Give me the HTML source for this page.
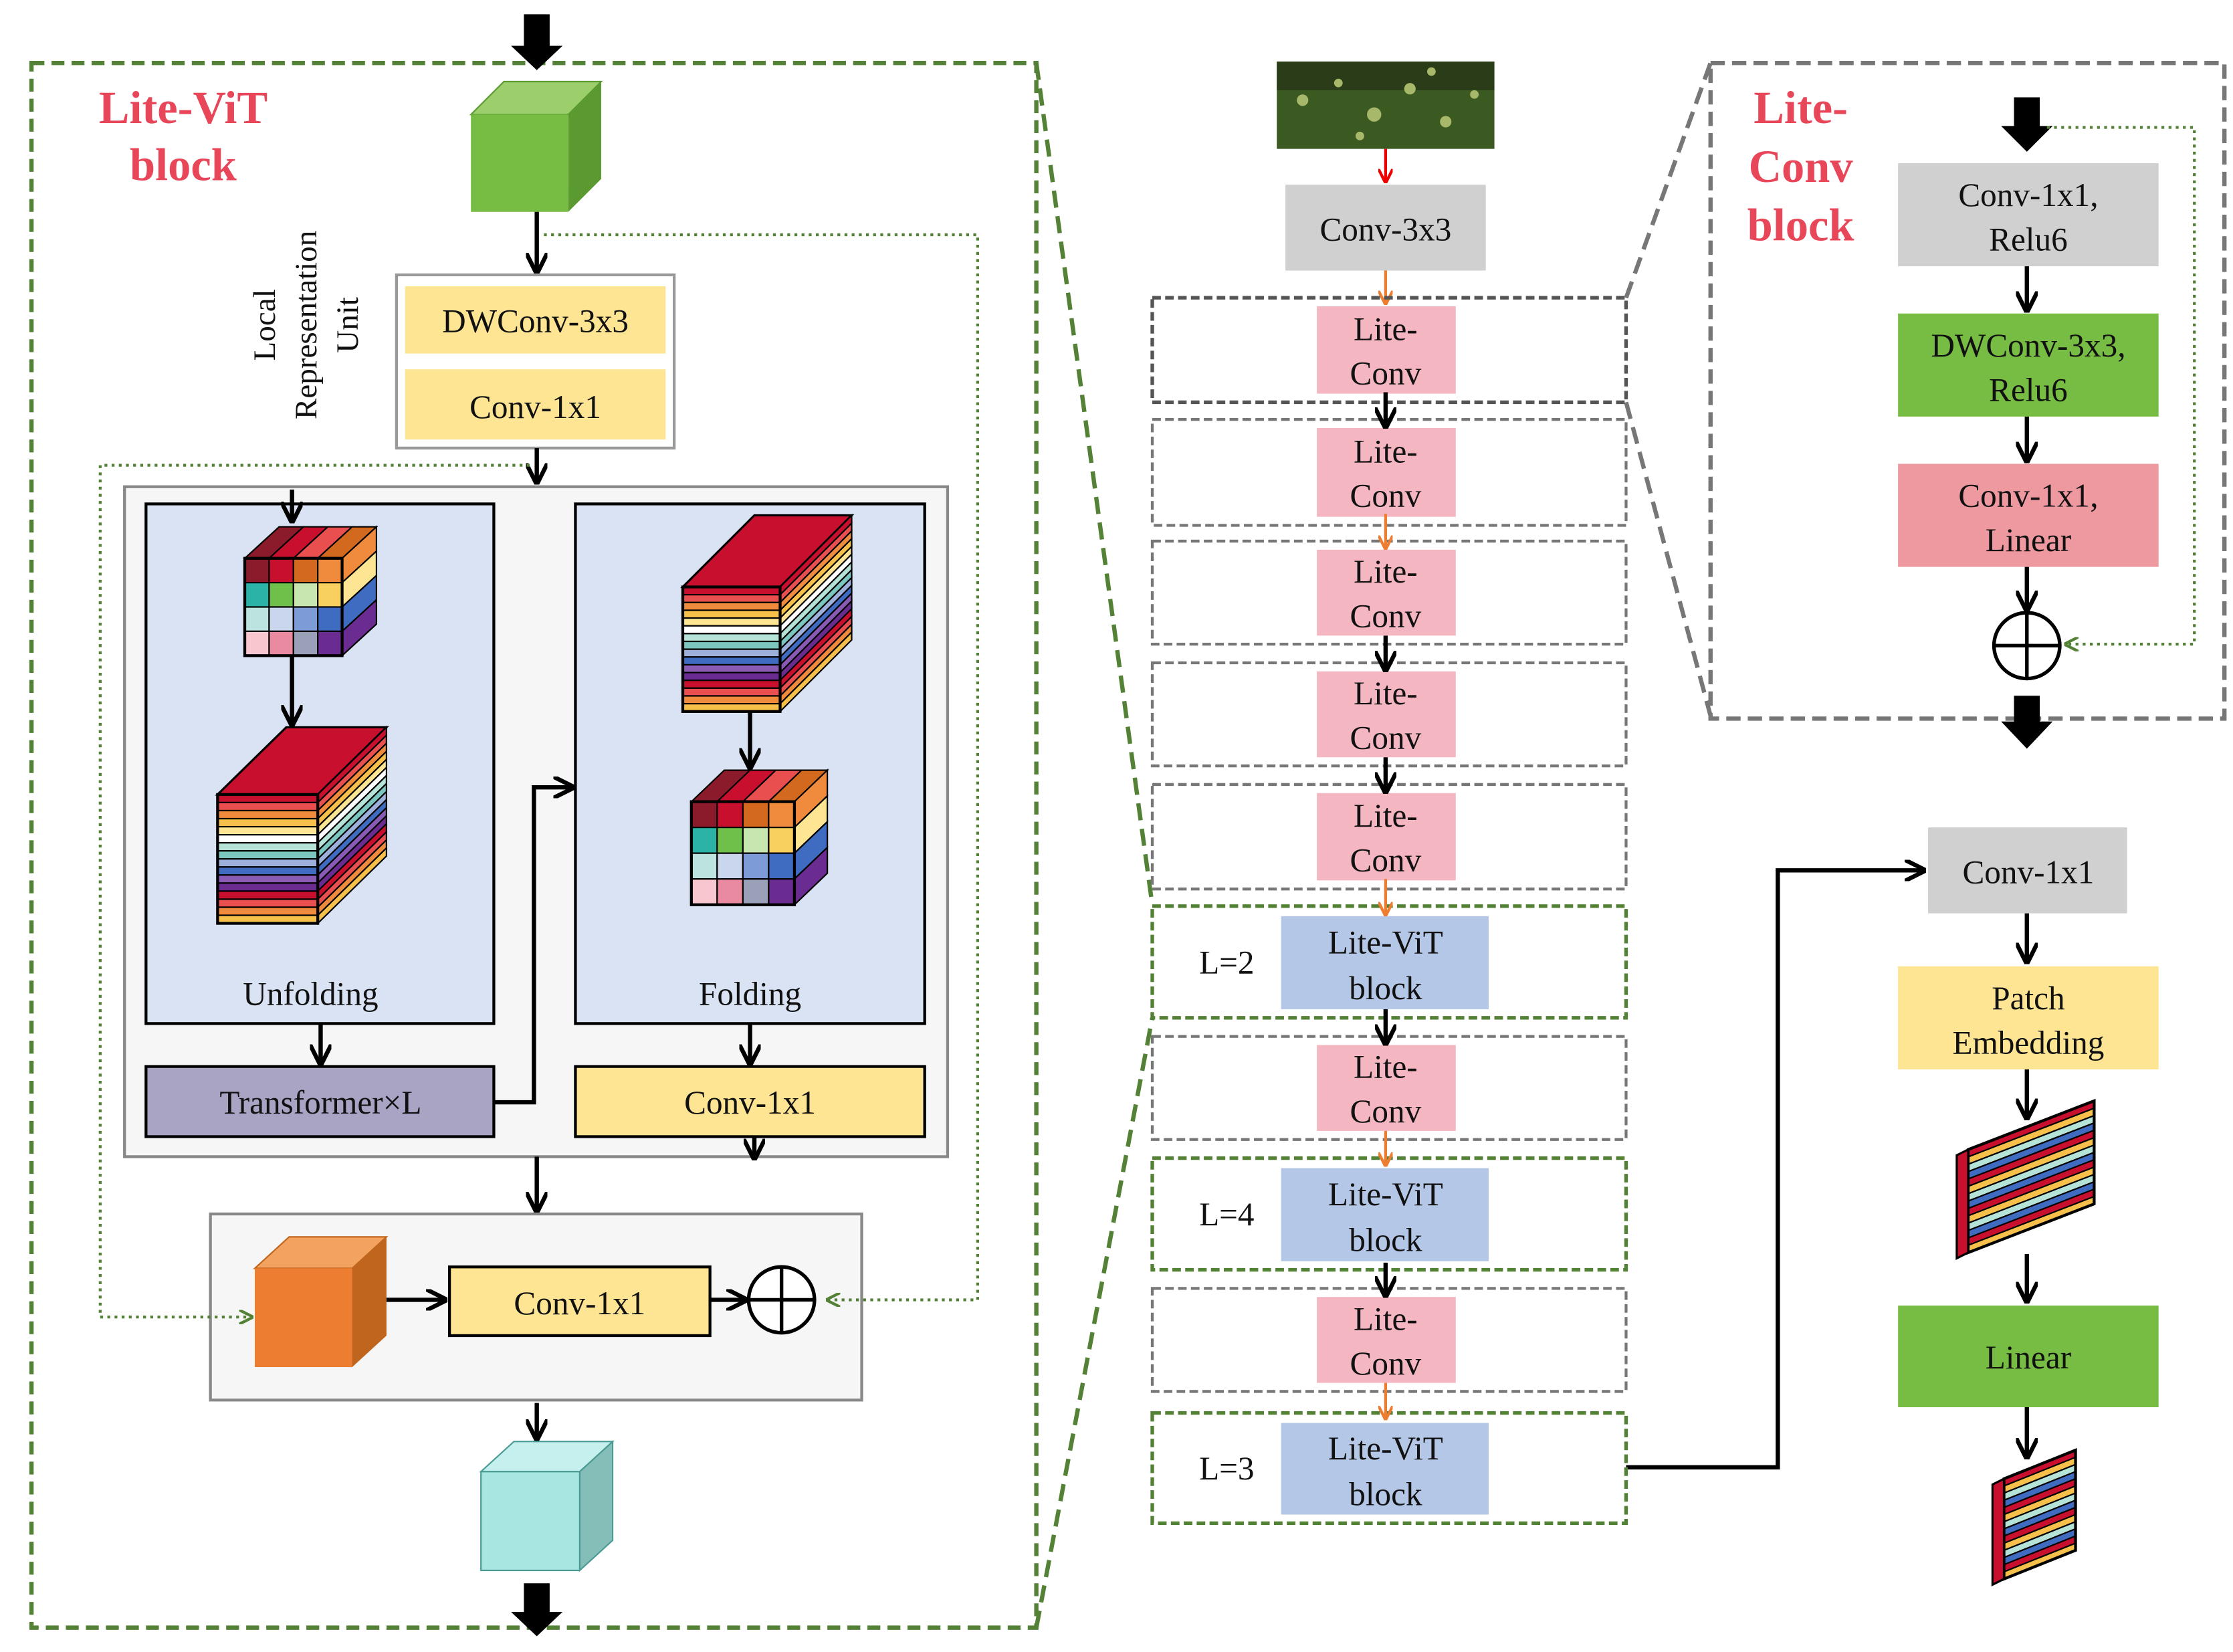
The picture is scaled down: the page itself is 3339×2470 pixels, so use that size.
<!DOCTYPE html>
<html><head><meta charset="utf-8"><style>
html,body{margin:0;padding:0;background:#fff}
svg{display:block}
text{font-family:"Liberation Serif",serif;fill:#111}
</style></head><body>
<svg id="s" width="3339" height="2470" viewBox="0 0 1560 1154" xmlns="http://www.w3.org/2000/svg">
<defs>
<marker id="ab" viewBox="0 0 10 10" refX="9" refY="5" markerWidth="5" markerHeight="5" orient="auto"><path d="M0,0 L10,5 L0,10" fill="none" stroke="#000" stroke-width="2"/></marker>
<marker id="ao" viewBox="0 0 10 10" refX="9" refY="5" markerWidth="5" markerHeight="5" orient="auto"><path d="M0,0 L10,5 L0,10" fill="none" stroke="#ed7d31" stroke-width="2"/></marker>
<marker id="ar" viewBox="0 0 10 10" refX="9" refY="5" markerWidth="5" markerHeight="5" orient="auto"><path d="M0,0 L10,5 L0,10" fill="none" stroke="#e00" stroke-width="2"/></marker>
<marker id="ag" viewBox="0 0 10 10" refX="9" refY="5" markerWidth="5" markerHeight="5" orient="auto"><path d="M0,0 L10,5 L0,10" fill="none" stroke="#538135" stroke-width="2"/></marker>
</defs>
<!-- left big box -->
<rect x="22" y="44" width="702" height="1093" fill="none" stroke="#538135" stroke-width="3" stroke-dasharray="9,5"/>
<path d="M366,10h18v22h9l-18,17l-18,-17h9z" fill="#000"/>
<text x="128" y="86" text-anchor="middle" font-size="32" font-weight="bold" style="fill:#e8475a">Lite-ViT</text>
<text x="128" y="126" text-anchor="middle" font-size="32" font-weight="bold" style="fill:#e8475a">block</text>
<polygon points="329,80 352,57 420,57 397,80" fill="#9ccf6c" stroke="#5a9a30"/>
<polygon points="397,80 420,57 420,125 397,148" fill="#5a9a30"/>
<rect x="329" y="80" width="68" height="68" fill="#77bc43"/>
<line x1="375" y1="148" x2="375" y2="190" stroke="#000" stroke-width="3" marker-end="url(#ab)"/>
<g transform="translate(192,305) rotate(-90)"><text x="78" y="0" text-anchor="middle" font-size="22">Local</text><text x="78" y="29" text-anchor="middle" font-size="22">Representation</text><text x="78" y="58" text-anchor="middle" font-size="22">Unit</text></g>
<rect x="277" y="192" width="194" height="121" fill="#fff" stroke="#999" stroke-width="2"/>
<rect x="283" y="200" width="182" height="47" fill="#fde594"/>
<text x="374" y="232" text-anchor="middle" font-size="23">DWConv-3x3</text>
<rect x="283" y="258" width="182" height="49" fill="#fde594"/>
<text x="374" y="292" text-anchor="middle" font-size="23">Conv-1x1</text>
<line x1="375" y1="313" x2="375" y2="337" stroke="#000" stroke-width="3" marker-end="url(#ab)"/>
<rect x="87" y="340" width="575" height="468" fill="#f6f6f6" stroke="#888" stroke-width="2"/>
<rect x="102" y="352" width="243" height="363" fill="#dae3f3" stroke="#000" stroke-width="2"/>
<rect x="402" y="352" width="244" height="363" fill="#dae3f3" stroke="#000" stroke-width="2"/>
<text x="217" y="702" text-anchor="middle" font-size="23">Unfolding</text>
<text x="524" y="702" text-anchor="middle" font-size="23">Folding</text>
<line x1="204" y1="342" x2="204" y2="364" stroke="#000" stroke-width="3" marker-end="url(#ab)"/>
<line x1="204" y1="458" x2="204" y2="506" stroke="#000" stroke-width="3" marker-end="url(#ab)"/>
<line x1="524" y1="497" x2="524" y2="536" stroke="#000" stroke-width="3" marker-end="url(#ab)"/>
<rect x="102" y="745" width="243" height="49" fill="#a9a3c4" stroke="#000" stroke-width="2"/>
<text x="224" y="778" text-anchor="middle" font-size="23">Transformer×L</text>
<rect x="402" y="745" width="244" height="49" fill="#fde594" stroke="#000" stroke-width="2"/>
<text x="524" y="778" text-anchor="middle" font-size="23">Conv-1x1</text>
<line x1="224" y1="715" x2="224" y2="743" stroke="#000" stroke-width="3" marker-end="url(#ab)"/>
<line x1="524" y1="715" x2="524" y2="743" stroke="#000" stroke-width="3" marker-end="url(#ab)"/>
<line x1="527" y1="794" x2="527" y2="809" stroke="#000" stroke-width="3" marker-end="url(#ab)"/>
<polyline points="345,770 373,770 373,550 400,550" fill="none" stroke="#000" stroke-width="3" marker-end="url(#ab)"/>
<line x1="375" y1="808" x2="375" y2="846" stroke="#000" stroke-width="3" marker-end="url(#ab)"/>
<rect x="147" y="848" width="455" height="130" fill="#f6f6f6" stroke="#888" stroke-width="2"/>
<polyline points="380,164 683,164 683,908 578,908" fill="none" stroke="#538135" stroke-width="2" stroke-dasharray="2,3" marker-end="url(#ag)"/>
<polyline points="370,325 70,325 70,920 176,920" fill="none" stroke="#538135" stroke-width="2" stroke-dasharray="2,3" marker-end="url(#ag)"/>
<polygon points="178,886 202,864 270,864 246,886" fill="#f3a35f" stroke="#c0651d"/>
<polygon points="246,886 270,864 270,933 246,955" fill="#c0651d"/>
<rect x="178" y="886" width="68" height="69" fill="#ed7d31"/>
<line x1="270" y1="908" x2="311" y2="908" stroke="#000" stroke-width="3" marker-end="url(#ab)"/>
<rect x="314" y="885" width="182" height="48" fill="#fde594" stroke="#000" stroke-width="2"/>
<text x="405" y="918" text-anchor="middle" font-size="23">Conv-1x1</text>
<line x1="496" y1="908" x2="521" y2="908" stroke="#000" stroke-width="3" marker-end="url(#ab)"/>
<circle cx="546" cy="908" r="23" fill="#fff" stroke="#000" stroke-width="2.5"/>
<path d="M523,908h46M546,885v46" stroke="#000" stroke-width="2.5"/>
<line x1="375" y1="980" x2="375" y2="1005" stroke="#000" stroke-width="3" marker-end="url(#ab)"/>
<polygon points="336,1028 359,1007 428,1007 405,1028" fill="#c6f0ed" stroke="#4a9a94"/>
<polygon points="405,1028 428,1007 428,1076 405,1097" fill="#85bdb8" stroke="#4a9a94"/>
<rect x="336" y="1028" width="69" height="69" fill="#a8e6e2" stroke="#4a9a94"/>
<path d="M366,1106h18v20h9l-18,17l-18,-17h9z" fill="#000"/>
<line x1="724" y1="44" x2="805" y2="632" stroke="#538135" stroke-width="3" stroke-dasharray="12,6"/>
<line x1="724" y1="1137" x2="805" y2="711" stroke="#538135" stroke-width="3" stroke-dasharray="12,6"/>
<line x1="1136" y1="208" x2="1195" y2="44" stroke="#777" stroke-width="3" stroke-dasharray="12,6"/>
<line x1="1136" y1="281" x2="1195" y2="500" stroke="#777" stroke-width="3" stroke-dasharray="12,6"/>
<rect x="892" y="43" width="152" height="61" fill="#3b5a22"/>
<rect x="892" y="43" width="152" height="20" fill="#2a3d18"/>
<g fill="#a7b86a"><circle cx="910" cy="70" r="4"/><circle cx="935" cy="58" r="3"/><circle cx="960" cy="80" r="5"/><circle cx="985" cy="62" r="4"/><circle cx="1010" cy="85" r="4"/><circle cx="1030" cy="66" r="3"/><circle cx="950" cy="95" r="3"/><circle cx="1000" cy="50" r="3"/></g>
<line x1="968" y1="104" x2="968" y2="127" stroke="#e00" stroke-width="2" marker-end="url(#ar)"/>
<rect x="898" y="129" width="140" height="60" fill="#d0d0d0"/>
<text x="968" y="168" text-anchor="middle" font-size="23">Conv-3x3</text>
<line x1="968" y1="189" x2="968" y2="212" stroke="#ed7d31" stroke-width="2" marker-end="url(#ao)"/>
<rect x="1195" y="44" width="359" height="458" fill="none" stroke="#777" stroke-width="3" stroke-dasharray="10,5"/>
<text x="1258" y="86" text-anchor="middle" font-size="32" font-weight="bold" style="fill:#e8475a">Lite-</text>
<text x="1258" y="127" text-anchor="middle" font-size="32" font-weight="bold" style="fill:#e8475a">Conv</text>
<text x="1258" y="168" text-anchor="middle" font-size="32" font-weight="bold" style="fill:#e8475a">block</text>
<path d="M1407,68h18v20h9l-18,18l-18,-18h9z" fill="#000"/>
<polyline points="1430,89 1533,89 1533,450 1443,450" fill="none" stroke="#538135" stroke-width="2" stroke-dasharray="2,3" marker-end="url(#ag)"/>
<rect x="1326" y="114" width="182" height="72" fill="#d0d0d0"/>
<text x="1417" y="144" text-anchor="middle" font-size="23">Conv-1x1,</text><text x="1417" y="175" text-anchor="middle" font-size="23">Relu6</text>
<line x1="1416" y1="186" x2="1416" y2="217" stroke="#000" stroke-width="3" marker-end="url(#ab)"/>
<rect x="1326" y="219" width="182" height="72" fill="#77bc43"/>
<text x="1417" y="249" text-anchor="middle" font-size="23">DWConv-3x3,</text><text x="1417" y="280" text-anchor="middle" font-size="23">Relu6</text>
<line x1="1416" y1="291" x2="1416" y2="322" stroke="#000" stroke-width="3" marker-end="url(#ab)"/>
<rect x="1326" y="324" width="182" height="72" fill="#ee98a0"/>
<text x="1417" y="354" text-anchor="middle" font-size="23">Conv-1x1,</text><text x="1417" y="385" text-anchor="middle" font-size="23">Linear</text>
<line x1="1416" y1="396" x2="1416" y2="426" stroke="#000" stroke-width="3" marker-end="url(#ab)"/>
<circle cx="1416" cy="451" r="23" fill="#fff" stroke="#000" stroke-width="2.5"/>
<path d="M1393,451h46M1416,428v46" stroke="#000" stroke-width="2.5"/>
<path d="M1407,486h18v18h9l-18,19l-18,-19h9z" fill="#000"/>
<polyline points="1136,1025 1242,1025 1242,608 1344,608" fill="none" stroke="#000" stroke-width="3" marker-end="url(#ab)"/>
<rect x="1347" y="578" width="139" height="60" fill="#d0d0d0"/>
<text x="1417" y="617" text-anchor="middle" font-size="23">Conv-1x1</text>
<line x1="1416" y1="638" x2="1416" y2="672" stroke="#000" stroke-width="3" marker-end="url(#ab)"/>
<rect x="1326" y="675" width="182" height="72" fill="#fde594"/>
<text x="1417" y="705" text-anchor="middle" font-size="23">Patch</text><text x="1417" y="736" text-anchor="middle" font-size="23">Embedding</text>
<line x1="1416" y1="747" x2="1416" y2="781" stroke="#000" stroke-width="3" marker-end="url(#ab)"/>
<line x1="1416" y1="876" x2="1416" y2="909" stroke="#000" stroke-width="3" marker-end="url(#ab)"/>
<rect x="1326" y="912" width="182" height="71" fill="#77bc43"/>
<text x="1417" y="956" text-anchor="middle" font-size="23">Linear</text>
<line x1="1416" y1="983" x2="1416" y2="1018" stroke="#000" stroke-width="3" marker-end="url(#ab)"/>
<g id="dyn"></g>
</svg>
<script>
var NS="http://www.w3.org/2000/svg",D=document.getElementById("dyn");
function el(t,a){var e=document.createElementNS(NS,t);for(var k in a)e.setAttribute(k,a[k]);D.appendChild(e);return e;}
var C=["#c8102e","#e94f4f","#f08a3c","#f7c04a","#fde594","#ffffff","#b5e3d8","#7cc6c0","#9db0dc","#3f6cc0","#8a5bb5","#6b2c91"];
function stack(x,y,w,h,dx,dy,n){
 var sh=h/n;
 el("polygon",{points:[x,y,x+dx,y-dy,x+w+dx,y-dy,x+w,y].join(","),fill:"#c8102e",stroke:"#000","stroke-width":1.5});
 for(var i=0;i<n;i++){var c=C[i%C.length],yy=y+i*sh;
  el("rect",{x:x,y:yy,width:w,height:sh,fill:c,stroke:"#000","stroke-width":1});
  el("polygon",{points:[x+w,yy,x+w+dx,yy-dy,x+w+dx,yy-dy+sh,x+w,yy+sh].join(","),fill:c,stroke:"#000","stroke-width":1});}
 el("rect",{x:x,y:y,width:w,height:h,fill:"none",stroke:"#000","stroke-width":2});
}
var G=[["#8b1a2b","#c8102e","#d2691e","#f08a3c"],["#2bb3a8","#6fbf4b","#c8e6b0","#f7d060"],["#bde3e0","#c9d6ee","#7d9bd6","#3f6cc0"],["#f7c6cf","#e98aa0","#9aa0b8","#6b2c91"]];
var T=["#8b1a2b","#c8102e","#e94f4f","#d2691e","#f08a3c"],S=["#f08a3c","#fde594","#3f6cc0","#6b2c91"];
function grid(x,y,s,dx,dy){
 var c=s/4;
 for(var i=0;i<4;i++){var a=x+i*c;el("polygon",{points:[a,y,a+dx,y-dy,a+c+dx,y-dy,a+c,y].join(","),fill:T[i],stroke:"#000","stroke-width":1});}
 for(var j=0;j<4;j++){var b=y+j*c;el("polygon",{points:[x+s,b,x+s+dx,b-dy,x+s+dx,b-dy+c,x+s,b+c].join(","),fill:S[j],stroke:"#000","stroke-width":1});}
 for(var r=0;r<4;r++)for(var k=0;k<4;k++)el("rect",{x:x+k*c,y:y+r*c,width:c,height:c,fill:G[r][k],stroke:"#000","stroke-width":1});
 el("rect",{x:x,y:y,width:s,height:s,fill:"none",stroke:"#000","stroke-width":2});
}
grid(171,390,68,24,22);
stack(152,555,70,90,48,47,16);
stack(477,410,68,87,50,50,16);
grid(483,560,72,23,22);
function para(x,y,w,h,dy,n){
 var sh=h/n;
 for(var i=0;i<n;i++){var c=C[(i*3)%C.length];if(c=="#ffffff")c="#f7c04a";var yy=y+i*sh;
  el("polygon",{points:[x,yy,x+w,yy-dy,x+w,yy-dy+sh,x,yy+sh].join(","),fill:c,stroke:"#000","stroke-width":1});}
 el("polygon",{points:[x,y,x+w,y-dy,x+w,y-dy+h,x,y+h].join(","),fill:"none",stroke:"#000","stroke-width":2});
 el("polygon",{points:[x-8,y+4,x,y,x,y+h,x-8,y+h+4].join(","),fill:"#c8102e",stroke:"#000","stroke-width":1.5});
}
para(1375,803,88,72,34,14);
para(1400,1033,50,70,20,14);
var rows=[[208,281,"p","#555",2.5],[293,367,"p"],[378,450,"p"],[463,535,"p"],[548,621,"p"],[633,711,"v","L=2"],[724,796,"p"],[809,887,"v","L=4"],[900,972,"p"],[987,1064,"v","L=3"]];
function tx(x,y,s,sz){var t=el("text",{x:x,y:y,"text-anchor":"middle","font-size":sz||23});t.textContent=s;}
rows.forEach(function(r){
 var g=r[2]=="v";
 el("rect",{x:805,y:r[0],width:331,height:r[1]-r[0],fill:"none",stroke:g?"#538135":(r[3]||"#777"),"stroke-width":g?2.5:(r[4]||2),"stroke-dasharray":"6,3"});
 if(g){el("rect",{x:895,y:r[0]+7,width:145,height:r[1]-r[0]-13,fill:"#b4c7e7"});
  var m=(r[0]+r[1])/2;tx(968,m-6,"Lite-ViT");tx(968,m+26,"block");tx(857,m+8,r[3]);}
 else{el("rect",{x:920,y:r[0]+6,width:97,height:r[1]-r[0]-12,fill:"#f4b6c0"});
  var m=(r[0]+r[1])/2;tx(968,m-7,"Lite-");tx(968,m+24,"Conv");}
});
var ar=[[274,299,"b"],[359,384,"o"],[444,469,"b"],[529,554,"b"],[614,640,"o"],[705,730,"b"],[790,815,"o"],[882,906,"b"],[966,992,"o"]];
ar.forEach(function(a){el("line",{x1:968,y1:a[0],x2:968,y2:a[1]-1,stroke:a[2]=="b"?"#000":"#ed7d31","stroke-width":a[2]=="b"?3:2,"marker-end":a[2]=="b"?"url(#ab)":"url(#ao)"});});
</script>
</body></html>
